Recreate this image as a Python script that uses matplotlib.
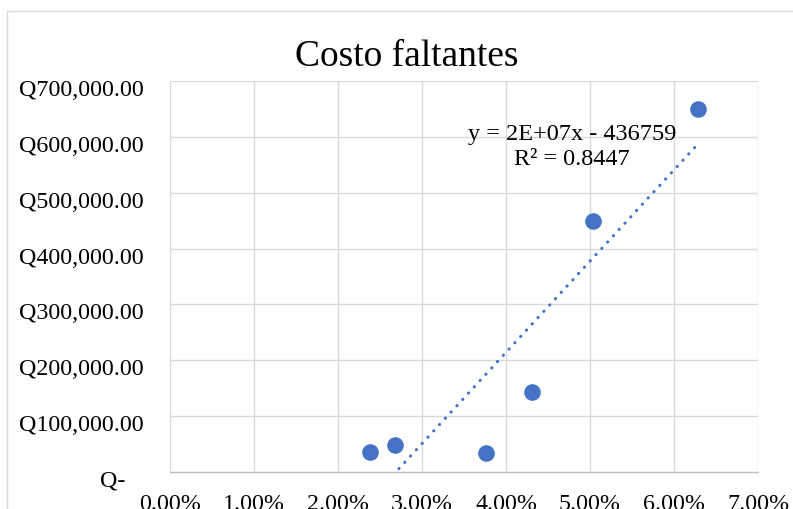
import matplotlib
matplotlib.use('Agg')
import matplotlib.pyplot as plt
import matplotlib.patches as mpatches
import matplotlib.ticker as mticker
import matplotlib.transforms as mtransforms
import numpy as np

# Data (x = % faltantes, y = costo in Q)
pct_faltantes = [0.0238, 0.0268, 0.0376, 0.0431, 0.0504, 0.0629]
costo = [36000, 48000, 34000, 143000, 449000, 650000]

x_ticks = [0.00, 0.01, 0.02, 0.03, 0.04, 0.05, 0.06, 0.07]
y_ticks = [0, 100000, 200000, 300000, 400000, 500000, 600000, 700000]

title = 'Costo faltantes'
eq_label = 'y = 2E+07x - 436759\nR² = 0.8447'

plt.rcParams['font.family'] = ['Liberation Serif', 'DejaVu Serif']

W, H = 793, 510
fig = plt.figure(figsize=(W / 100, H / 100), dpi=100)

# chart area border (cropped on the right / bottom like the reference)
fig.patches.append(mpatches.Rectangle((7 / W, -0.1), 1.2, 1 - 12 / H + 0.1,
                                      transform=fig.transFigure, fill=False,
                                      edgecolor='#D9D9D9', linewidth=1.0))

ax = fig.add_axes([170 / W, 1 - 473 / H, (758 - 170) / W, (473 - 82) / H])

grid_col = '#D9D9D9'
ax.set_xlim(0, 0.07)
ax.set_ylim(0, 700000)
ax.set_xticks(x_ticks)
ax.set_yticks(y_ticks)
ax.grid(True, color=grid_col, linewidth=1.0)
ax.set_axisbelow(True)
for side in ['top', 'right', 'left']:
    ax.spines[side].set_visible(False)
ax.spines['bottom'].set_color('#BFBFBF')
ax.spines['bottom'].set_linewidth(1.0)

ax.xaxis.set_major_formatter(mticker.FuncFormatter(lambda v, p: f'{v * 100:.2f}%'))
ax.yaxis.set_major_formatter(mticker.FuncFormatter(
    lambda v, p: 'Q-   ' if v == 0 else f'Q{v:,.2f}'))
ax.tick_params(axis='both', length=0, labelsize=17.3, colors='black')
ax.tick_params(axis='y', pad=19)
ax.tick_params(axis='x', pad=15)

# Excel puts the value labels a bit below their gridlines
shift = mtransforms.ScaledTranslation(0, -6 / 100, fig.dpi_scale_trans)
for tick in ax.yaxis.get_major_ticks():
    tick.label1.set_transform(tick.label1.get_transform() + shift)

# linear trendline (least squares), drawn over the data range
slope, intercept = np.polyfit(pct_faltantes, costo, 1)
xs = np.linspace(min(pct_faltantes), max(pct_faltantes), 200)
ax.plot(xs, slope * xs + intercept, color='#4472C4', linewidth=2.2,
        linestyle=(0, (0.1, 2.7)), dash_capstyle='round', zorder=2)

ax.scatter(pct_faltantes, costo, s=120, color='#4472C4', zorder=3, clip_on=False)

ax.text(572 / W, 1 - 147 / H, eq_label, transform=fig.transFigure,
        ha='center', va='center', fontsize=17.5, linespacing=1.25)

fig.text(407 / W, 1 - 57 / H, title, ha='center', va='center', fontsize=27)

plt.savefig('out.png', dpi=100)
plt.close(fig)
